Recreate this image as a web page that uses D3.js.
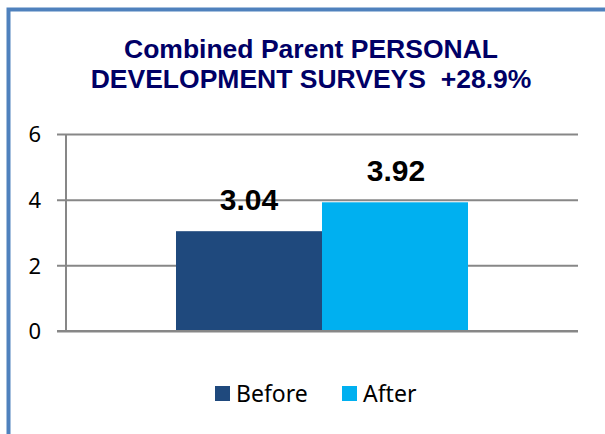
<!DOCTYPE html>
<html>
<head>
<meta charset="utf-8">
<script src="https://cdn.jsdelivr.net/npm/d3@7"></script>
<style>
  body { margin: 0; background: #fff; }
  svg { display: block; }
  .title { font-family: "Liberation Sans", Arial, sans-serif; font-weight: bold; fill: #000066; white-space: pre; }
  .tick text, .legend text { font-family: "Noto Sans", "Open Sans", sans-serif; fill: #000; }
  .value { font-family: "Liberation Sans", Arial, sans-serif; font-weight: bold; fill: #000; }
</style>
</head>
<body>
<div id="chart"></div>
<script>
"use strict"

// chart data
const categories = [""]
const seriesNames = ["Before", "After"]
const seriesValues = [3.04, 3.92]
const valueLabels = ["3.04", "3.92"]
const yTicks = [0, 2, 4, 6]
const titleLines = ["Combined Parent PERSONAL", "DEVELOPMENT SURVEYS  +28.9%"]

const colors = ["#1F497D", "#00B0F0"]

// plot box
const W = 605, H = 434
const plot = { left: 66, right: 578, top: 134, bottom: 331 }

const svg = d3.select("#chart").append("svg")
    .attr("width", W).attr("height", H)

// outer frame (only left and top edges show)
svg.append("path")
    .attr("d", "M8.5,434 V9.5 H605")
    .attr("fill", "none").attr("stroke", "#4F81BD").attr("stroke-width", 4)

// title
svg.append("text").attr("class", "title")
    .attr("text-anchor", "middle").style("font-size", "26.5px")
    .selectAll("tspan").data(titleLines).join("tspan")
    .attr("x", 311).attr("y", (d, i) => 58 + i * 29.5)
    .text(d => d)

// scales
const y = d3.scaleLinear().domain([0, 6]).range([plot.bottom, plot.top])

const x0 = d3.scaleBand().domain(categories)
    .range([plot.left, plot.right]).paddingOuter(0.3767)

const x1 = d3.scaleBand().domain(seriesNames)
    .range([0, x0.bandwidth()])

// gridlines + tick labels
const yAxis = d3.axisLeft(y).tickValues(yTicks).tickFormat(d3.format("d"))
    .tickSize(plot.right - plot.left + 9).tickPadding(16)

const gy = svg.append("g")
    .attr("transform", "translate(" + plot.right + ",0)")
    .call(yAxis)
gy.select(".domain").remove()
gy.selectAll(".tick line").attr("stroke", "#878787").attr("stroke-width", 2)
gy.selectAll(".tick text").style("font-size", "22px").attr("dy", "0.36em")

// vertical axis line
svg.append("line")
    .attr("x1", plot.left).attr("x2", plot.left)
    .attr("y1", y(6)).attr("y2", y(0))
    .attr("stroke", "#878787").attr("stroke-width", 2)

// bars
const rows = seriesNames.map((s, i) => ({ name: s, value: seriesValues[i], label: valueLabels[i], color: colors[i] }))

const group = svg.append("g")
    .attr("transform", "translate(" + x0(categories[0]) + ",0)")

group.selectAll("rect").data(rows).join("rect")
    .attr("x", d => x1(d.name))
    .attr("y", d => y(d.value))
    .attr("width", x1.bandwidth())
    .attr("height", d => y(0) - y(d.value))
    .attr("fill", d => d.color)

// redraw baseline over bars
svg.append("line")
    .attr("x1", plot.left - 9).attr("x2", plot.right)
    .attr("y1", y(0)).attr("y2", y(0))
    .attr("stroke", "#878787").attr("stroke-width", 2)

// value labels
group.selectAll("text.value").data(rows).join("text")
    .attr("class", "value")
    .attr("text-anchor", "middle").style("font-size", "30px")
    .attr("x", (d, i) => x1(d.name) + x1.bandwidth() / 2 + (i === 0 ? 0 : 1))
    .attr("y", d => y(d.value) - 21)
    .text(d => d.label)

// legend
const legend = svg.append("g").attr("class", "legend")
const legendX = [215, 342]

const items = legend.selectAll("g").data(rows).join("g")
    .attr("transform", (d, i) => "translate(" + legendX[i] + ",386)")

items.append("rect").attr("width", 15).attr("height", 15).attr("fill", d => d.color)
items.append("text")
    .attr("x", 21).attr("y", 16)
    .style("font-size", "23px")
    .text(d => d.name)
</script>
</body>
</html>
